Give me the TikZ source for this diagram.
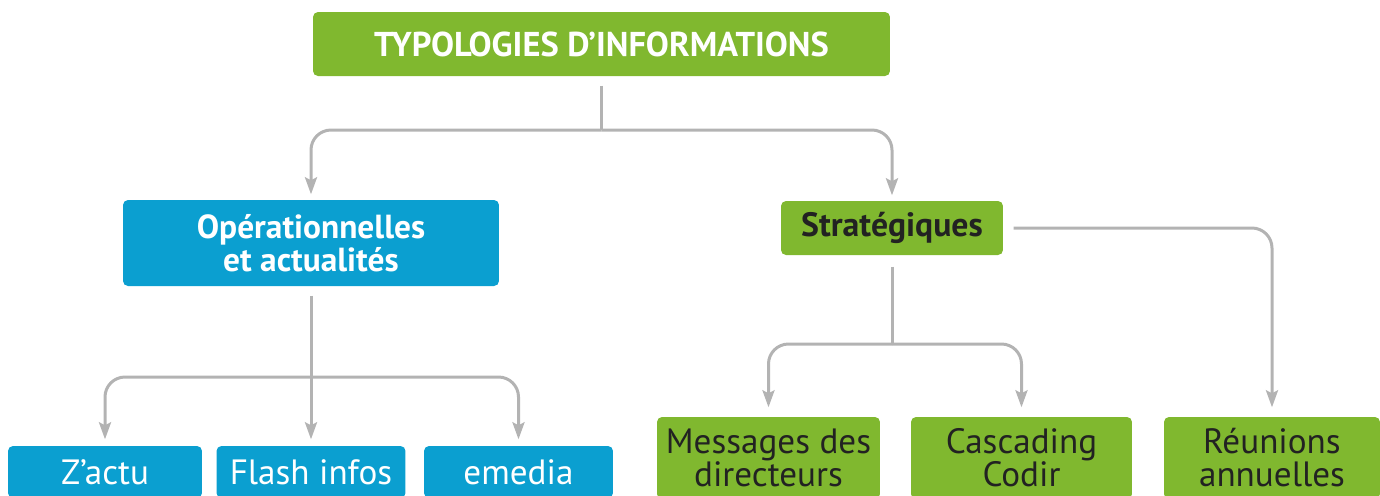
\documentclass[tikz,border=0pt]{standalone}
\usepackage{fontspec}
\setmainfont{PT Sans}
\usetikzlibrary{arrows.meta}

\definecolor{leaf}{HTML}{80B82F}
\definecolor{sky}{HTML}{0B9FD0}
\definecolor{wire}{HTML}{B3B3B3}
\definecolor{ink}{HTML}{222222}

\tikzset{
  box/.style={rectangle,rounded corners=0.5mm,inner sep=0pt,align=center,
    font=\fontsize{10}{9.4}\selectfont},
  greenbox/.style={box,fill=leaf,text=ink},
  bluebox/.style={box,fill=sky,text=white},
  link/.style={draw=wire,line width=0.3mm,rounded corners=2mm},
  arrow/.style={link,-{Stealth[length=1.7mm,width=1.2mm,inset=0.3mm]},shorten >=0.6mm}
}

\begin{document}
\begin{tikzpicture}[x=0.1mm,y=-0.1mm]
  \clip (0,0) rectangle (1380,495);

  % top
  \node[greenbox,text=white,minimum width=57.7mm,minimum height=6.4mm,
    font=\bfseries\fontsize{9.8}{11}\selectfont] (typo) at (601.5,44) {TYPOLOGIES D’INFORMATIONS};

  % second level
  \node[bluebox,minimum width=37.6mm,minimum height=8.6mm,font=\bfseries\fontsize{9.5}{9.4}\selectfont]
    (oper) at (311,243) {Opérationnelles\\et actualités};
  \node[greenbox,minimum width=22.2mm,minimum height=5.4mm,font=\bfseries\fontsize{9.6}{11}\selectfont]
    (strat) at (892,228) {Stratégiques};

  % leaves
  \node[bluebox,minimum width=19.4mm,minimum height=5.2mm] (zactu) at (105,472) {Z’actu};
  \node[bluebox,minimum width=18.9mm,minimum height=5.2mm] (flash) at (311,472) {Flash infos};
  \node[bluebox,minimum width=18.9mm,minimum height=5.2mm] (emedia) at (518.5,472) {emedia};
  \node[greenbox,minimum width=22.3mm,minimum height=8.2mm] (msg) at (768.5,458) {Messages des\\directeurs};
  \node[greenbox,minimum width=22.1mm,minimum height=8.2mm] (codir) at (1021.5,458) {Cascading\\Codir};
  \node[greenbox,minimum width=21.6mm,minimum height=8.2mm] (reun) at (1272,458) {Réunions\\annuelles};

  % connectors
  \coordinate (s1) at (601.5,130);
  \coordinate (s2) at (311,377);
  \coordinate (s3) at (892,344);

  \draw[link,shorten <=0.9mm] (typo) -- (s1);
  \draw[arrow,shorten >=0.5mm] (s1) -| (oper);
  \draw[arrow,shorten >=0.5mm] (s1) -| (strat);

  \draw[arrow,shorten <=0.9mm] (oper) -- (flash);
  \draw[arrow] (s2) -| (zactu);
  \draw[arrow] (s2) -| (emedia);

  \draw[link,shorten <=1.1mm] (strat) -- (s3);
  \draw[arrow,shorten >=0.9mm] (s3) -| (msg);
  \draw[arrow,shorten >=0.9mm] (s3) -| (codir);
  \draw[arrow,shorten <=1mm,shorten >=0.9mm] (strat) -| (reun);
\end{tikzpicture}
\end{document}
